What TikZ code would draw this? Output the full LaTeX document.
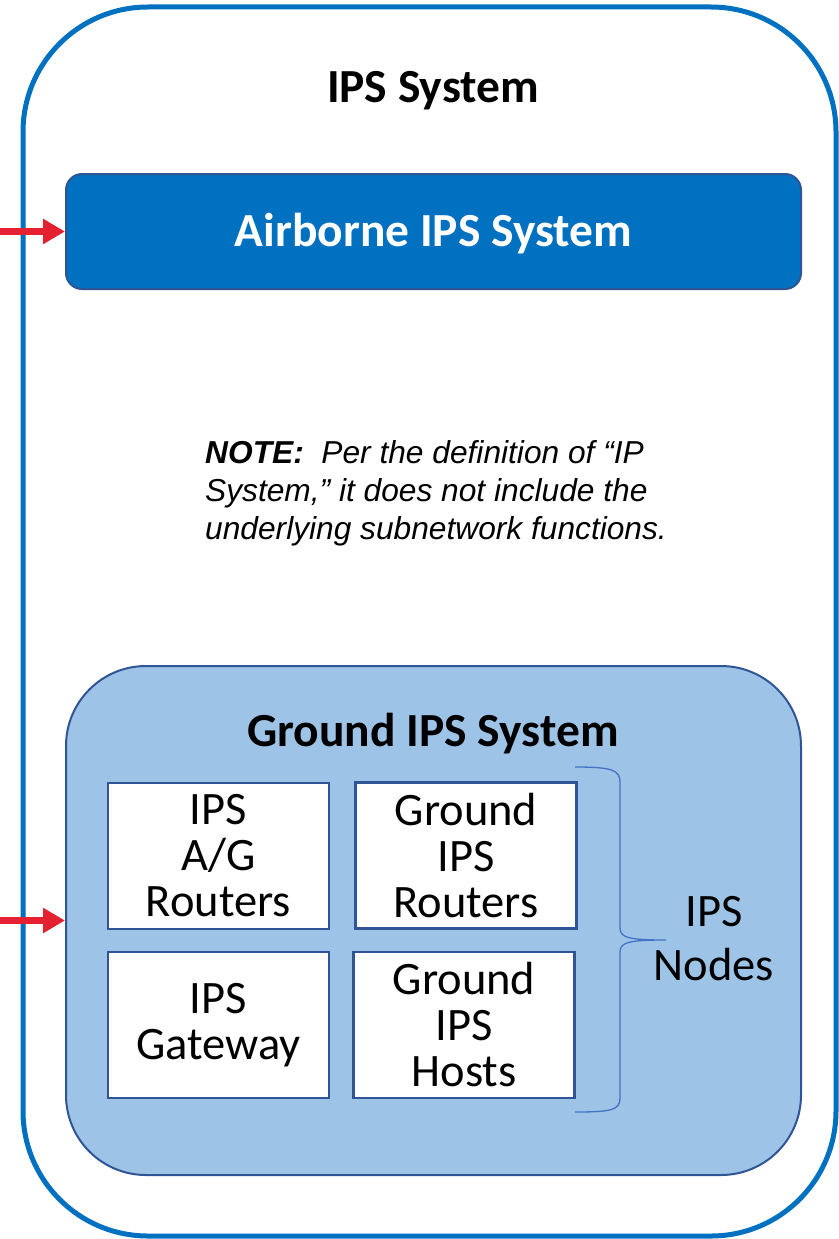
\documentclass[tikz,border=0pt]{standalone}
\usepackage{fontspec}
\setmainfont{Carlito}
\newfontfamily\notefont{Liberation Sans}
\usetikzlibrary{arrows.meta}

\definecolor{ipsblue}{HTML}{0070C0}
\definecolor{boxline}{HTML}{2F5597}
\definecolor{groundfill}{HTML}{9DC3E6}
\definecolor{feedred}{HTML}{E32131}
\definecolor{braceline}{HTML}{4472C4}

\begin{document}
\begin{tikzpicture}[x=1pt, y=-1pt, every node/.style={inner sep=0pt},
      title/.style={font=\fontsize{47.5}{47.5}\selectfont\bfseries, text height=30pt, text depth=0pt},
      ipsbox/.style={draw=boxline, line width=2.5pt, fill=white, minimum width=221pt,
                     minimum height=146pt, align=center, font=\fontsize{46.5}{46}\selectfont},
      feed/.style={draw=feedred, line width=7pt, -{Triangle[length=22pt, width=24pt]}}]
      \useasboundingbox (0, 0) rectangle (838, 1239);
      \node[draw=ipsblue, line width=5pt, rounded corners=125pt, minimum width=813pt,
            minimum height=1229pt] (ips) at (429.5, 621.5) {};
      \node[title] (ipstitle) at (433, 87) {IPS System};
      \node[title, text=white, draw=boxline, line width=2pt, fill=ipsblue, rounded corners=16pt,
            minimum width=735pt, minimum height=115pt] (air) at (433.5, 231.5) {Airborne IPS System};
      \node[anchor=west, align=left, font=\notefont\itshape\fontsize{31.7}{38}\selectfont] (note)
            at (205, 493) {\textbf{NOTE:}~~Per the definition of “IP\\System,” it does not include the\\underlying subnetwork functions.};
      \node[draw=boxline, line width=2pt, fill=groundfill, rounded corners=80pt, minimum width=735pt,
            minimum height=509pt] (ground) at (433.5, 920.5) {};
      \node[title] (groundtitle) at (433, 731) {Ground IPS System};
      \node[ipsbox] (agr) at (218.5, 856) {IPS\\A/G\\Routers};
      \node[ipsbox] (gr) at (466, 855.5) {Ground\\IPS\\Routers};
      \node[ipsbox] (gw) at (218.5, 1025) {IPS\\Gateway};
      \node[ipsbox] (gh) at (464, 1025) {Ground\\IPS\\Hosts};
      % brace round the four nodes
      \draw[braceline, line width=1.3pt] (575, 767) .. controls (612, 767) and (620, 770) .. (620, 782)
            -- (620, 928) .. controls (620, 938) and (630, 940) .. (666, 940)
            .. controls (630, 940) and (620, 942) .. (620, 952)
            -- (620, 1098) .. controls (620, 1110) and (612, 1112) .. (575, 1112);
      \node[align=center, font=\fontsize{46.5}{54}\selectfont] (nodes) at (714, 939) {IPS\\Nodes};
      \coordinate (inair) at (0, 231.5);
      \coordinate (inground) at (0, 920.5);
      \draw[feed] (inair) -- (air.west);
      \draw[feed] (inground) -- (ground.west);
\end{tikzpicture}
\end{document}
